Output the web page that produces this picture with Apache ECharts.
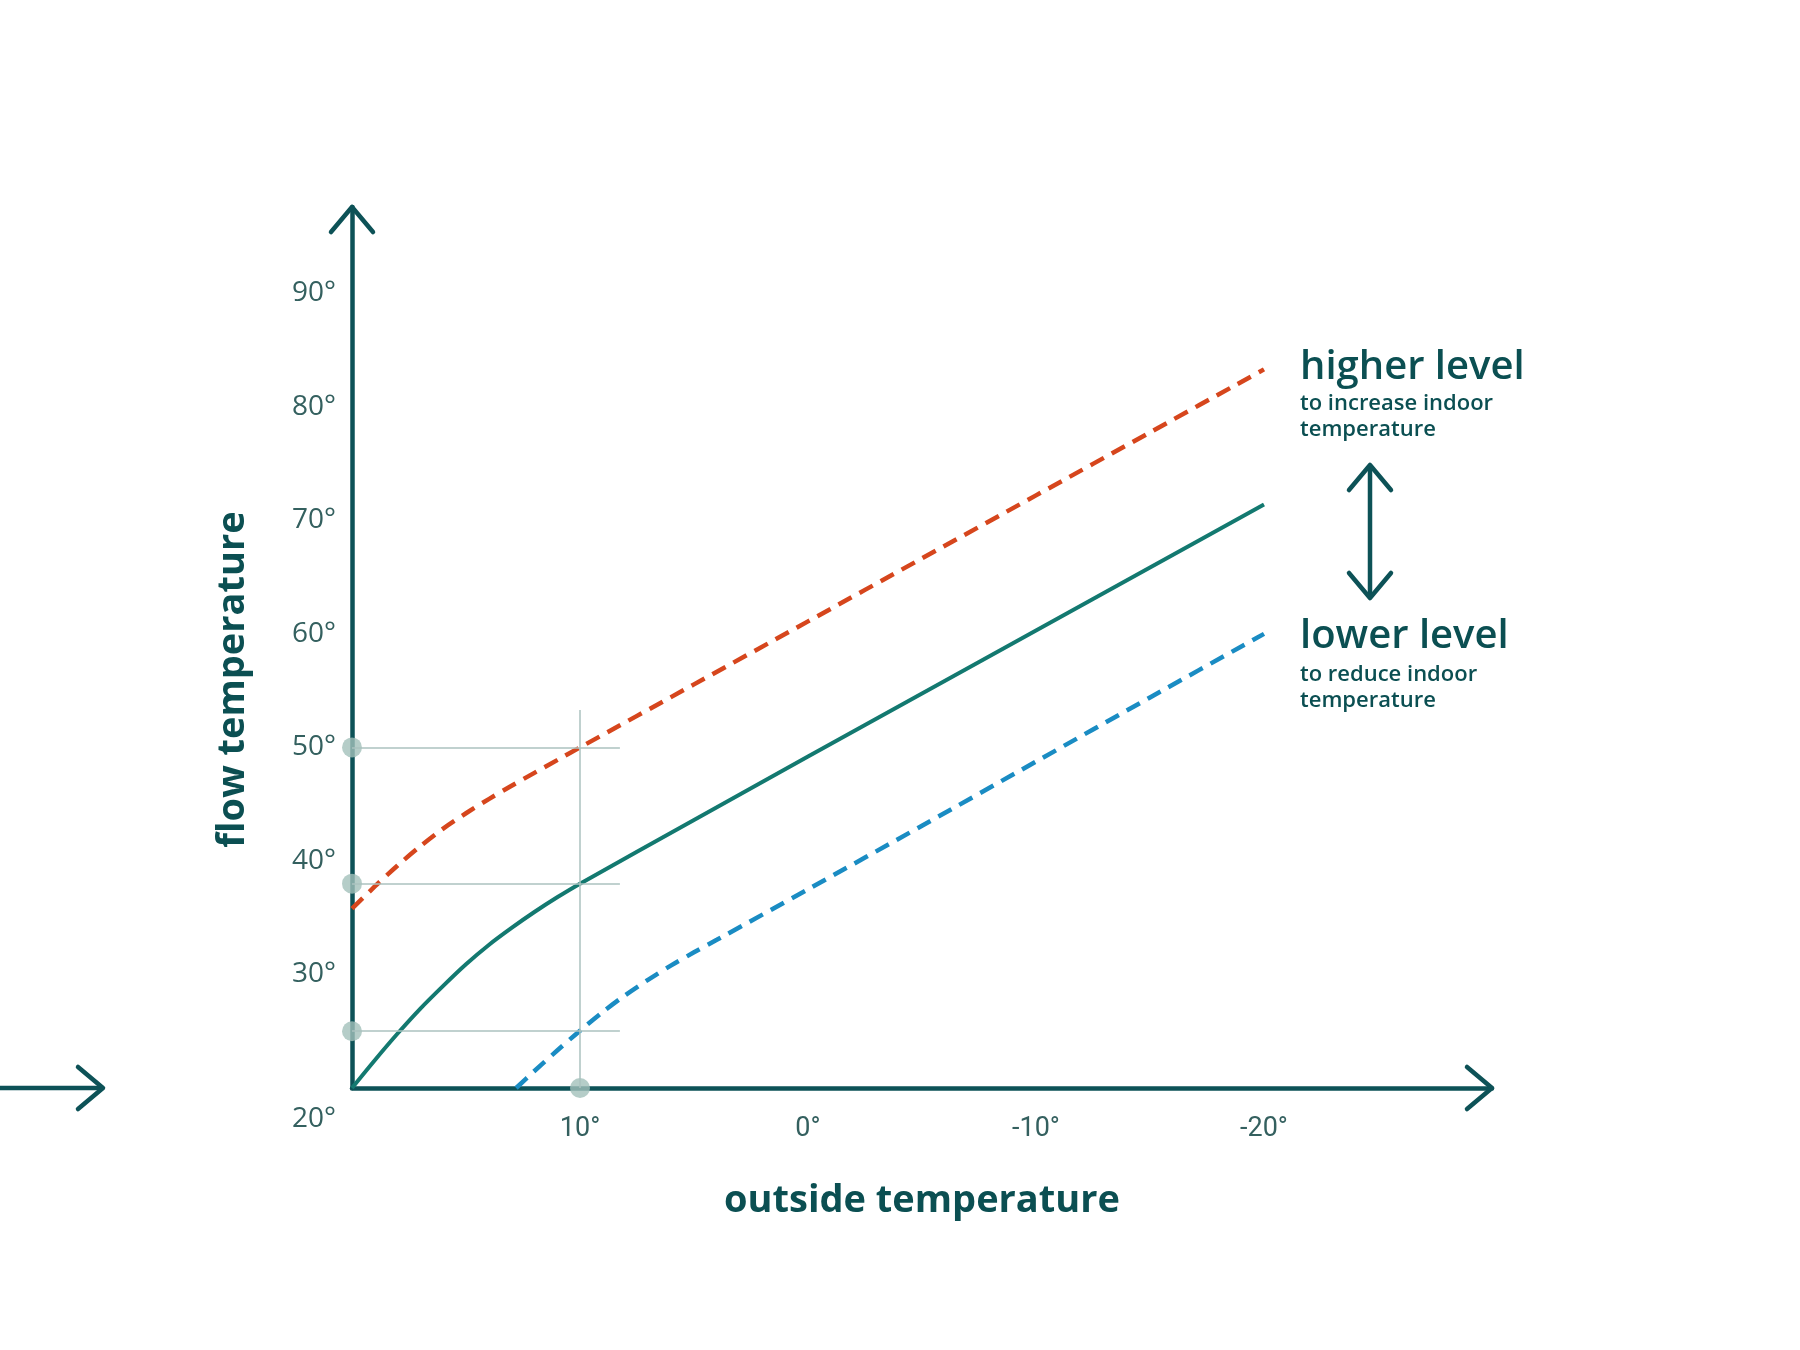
<!DOCTYPE html>
<html>
<head>
<meta charset="utf-8">
<title>Heating curve</title>
<script src="https://cdn.jsdelivr.net/npm/echarts@6/dist/echarts.min.js"></script>
<style>
  html, body { margin: 0; padding: 0; background: #fff; }
  #chart { width: 1800px; height: 1350px; }
</style>
</head>
<body>
<div id="chart"></div>
<script>
// outside temperature runs from 20° (left) down to -30° (right)
const xMin = -30
const xMax = 20
const yMin = 20
const yMax = 97.6

const xTicks = [10, 0, -10, -20]
const yTicks = [20, 30, 40, 50, 60, 70, 80, 90]

// [outside temperature, flow temperature]
const normalCurve = [[20, 20], [19, 22.45], [18, 24.8], [17, 27.0], [16, 29.0], [15, 30.9], [14, 32.6], [13, 34.1], [12, 35.5], [11, 36.8], [10, 38], [5, 43.6], [0, 49.2], [-5, 54.75], [-10, 60.3], [-15, 65.85], [-20, 71.4]]
const higherCurve = [[20, 35.8], [19, 37.75], [18, 39.6], [17, 41.3], [16, 42.85], [15, 44.2], [14, 45.45], [13, 46.62], [12, 47.76], [11, 48.88], [10, 50.0], [5, 55.55], [0, 61.1], [-5, 66.65], [-10, 72.2], [-15, 77.75], [-20, 83.3]]
const lowerCurve = [[12.8, 20], [12, 21.5], [11, 23.3], [10, 25.05], [9, 26.7], [8, 28.2], [7, 29.55], [6, 30.8], [5, 31.95], [4, 33.05], [0, 37.5], [-5, 43.1], [-10, 48.75], [-15, 54.4], [-20, 60]]

// reading guides at 10° outside
const guideLevels = [50, 38, 25]
const guideX = 10
const guideXEnd = 8.25
const guideYTop = 53.3
const markerPoints = [[20, 50], [20, 38], [20, 25], [10, 20]]

const axisColor = '#0d5257'
const labelColor = '#34605f'
const titleColor = '#0b4f52'
const guideColor = '#abc2bf'
const markerColor = '#a3c0ba'

const chart = echarts.init(document.getElementById('chart'))

const option = {
  backgroundColor: '#fff',
  animation: false,
  grid: { left: 352, right: 308, top: 207, bottom: 262 },
  xAxis: {
    type: 'value',
    min: xMin,
    max: xMax,
    interval: 10,
    inverse: true,
    name: 'outside temperature',
    nameLocation: 'middle',
    nameGap: 94,
    nameTextStyle: { fontFamily: 'Open Sans', fontWeight: 'bold', fontSize: 38, color: titleColor },
    axisLine: { onZero: false, lineStyle: { color: axisColor, width: 4.5 } },
    axisTick: { show: false },
    splitLine: { show: false },
    axisLabel: {
      margin: 28,
      fontFamily: 'Roboto',
      fontSize: 27,
      color: labelColor,
      formatter: v => xTicks.includes(v) ? v + '°' : ''
    }
  },
  yAxis: {
    type: 'value',
    min: yMin,
    max: yMax,
    interval: 10,
    name: 'flow temperature',
    nameLocation: 'middle',
    nameRotate: 90,
    nameGap: 100,
    nameTextStyle: { fontFamily: 'Open Sans', fontWeight: 'bold', fontSize: 38, color: titleColor, padding: [0, 64, 0, 0] },
    axisLine: { onZero: false, lineStyle: { color: axisColor, width: 4.5 } },
    axisTick: { show: false },
    splitLine: { show: false },
    axisLabel: {
      margin: 16,
      fontFamily: 'Open Sans',
      fontSize: 28,
      color: labelColor,
      formatter: v => v === yMin ? '{low|' + v + '°}' : (yTicks.includes(v) ? v + '°' : ''),
      rich: {
        low: { padding: [62, 0, 0, 0], fontFamily: 'Open Sans', fontSize: 28, color: labelColor }
      }
    }
  },
  series: [
    {
      name: 'guides',
      type: 'line',
      data: [],
      silent: true,
      markLine: {
        silent: true,
        symbol: 'none',
        label: { show: false },
        lineStyle: { color: guideColor, width: 1.5, type: 'solid' },
        data: guideLevels.map(l => [{ coord: [xMax, l] }, { coord: [guideXEnd, l] }])
          .concat([[{ coord: [guideX, yMin] }, { coord: [guideX, guideYTop] }]])
      }
    },
    {
      name: 'higher level',
      type: 'line',
      data: higherCurve,
      smooth: 0.3,
      showSymbol: false,
      silent: true,
      lineStyle: { color: '#d6461d', width: 4.5, type: [15, 9] }
    },
    {
      name: 'lower level',
      type: 'line',
      data: lowerCurve,
      smooth: 0.3,
      showSymbol: false,
      silent: true,
      lineStyle: { color: '#1a8cc3', width: 4.5, type: [15, 9] }
    },
    {
      name: 'normal',
      type: 'line',
      data: normalCurve,
      smooth: 0.3,
      showSymbol: false,
      silent: true,
      lineStyle: { color: '#137970', width: 4, join: 'round' }
    },
    {
      name: 'markers',
      type: 'scatter',
      data: markerPoints,
      symbolSize: 20,
      clip: false,
      silent: true,
      itemStyle: { color: markerColor }
    }
  ]
}

chart.setOption(option)

// open chevron arrow heads
function chevron(x, y, dir) {
  const w = 21, l = 25
  let pts
  if (dir === 'up') pts = [[x - w, y + l], [x, y], [x + w, y + l]]
  else if (dir === 'down') pts = [[x - w, y - l], [x, y], [x + w, y - l]]
  else pts = [[x - l, y - w], [x, y], [x - l, y + w]]
  return { type: 'polyline', shape: { points: pts }, style: { stroke: axisColor, lineWidth: 4.5, fill: null, lineCap: 'round', lineJoin: 'round' }, z: 10 }
}

const yTip = chart.convertToPixel({ gridIndex: 0 }, [xMax, yMax])
const xTip = chart.convertToPixel({ gridIndex: 0 }, [xMin, yMin])
const leftEnd = 103
const arrowX = 1370, arrowTop = 465, arrowBottom = 598

const textFont = 'Open Sans'
const graphics = [
  chevron(yTip[0], yTip[1], 'up'),
  chevron(xTip[0], xTip[1], 'right'),
  { type: 'line', shape: { x1: 0, y1: xTip[1], x2: leftEnd, y2: xTip[1] }, style: { stroke: axisColor, lineWidth: 4.5 } },
  chevron(leftEnd, xTip[1], 'right'),
  { type: 'line', shape: { x1: arrowX, y1: arrowTop, x2: arrowX, y2: arrowBottom }, style: { stroke: axisColor, lineWidth: 4.5 } },
  chevron(arrowX, arrowTop, 'up'),
  chevron(arrowX, arrowBottom, 'down'),
  { type: 'text', x: 1300, y: 368, style: { text: 'higher level', fontFamily: textFont, fontSize: 40, fontWeight: 600, fill: titleColor, verticalAlign: 'middle' } },
  { type: 'text', x: 1300, y: 391, style: { text: 'to increase indoor\ntemperature', fontFamily: textFont, fontSize: 22, fontWeight: 600, lineHeight: 26, fill: titleColor, verticalAlign: 'top' } },
  { type: 'text', x: 1300, y: 637, style: { text: 'lower level', fontFamily: textFont, fontSize: 40, fontWeight: 600, fill: titleColor, verticalAlign: 'middle' } },
  { type: 'text', x: 1300, y: 662, style: { text: 'to reduce indoor\ntemperature', fontFamily: textFont, fontSize: 22, fontWeight: 600, lineHeight: 26, fill: titleColor, verticalAlign: 'top' } }
]

chart.setOption({ graphic: graphics })
</script>
</body>
</html>
